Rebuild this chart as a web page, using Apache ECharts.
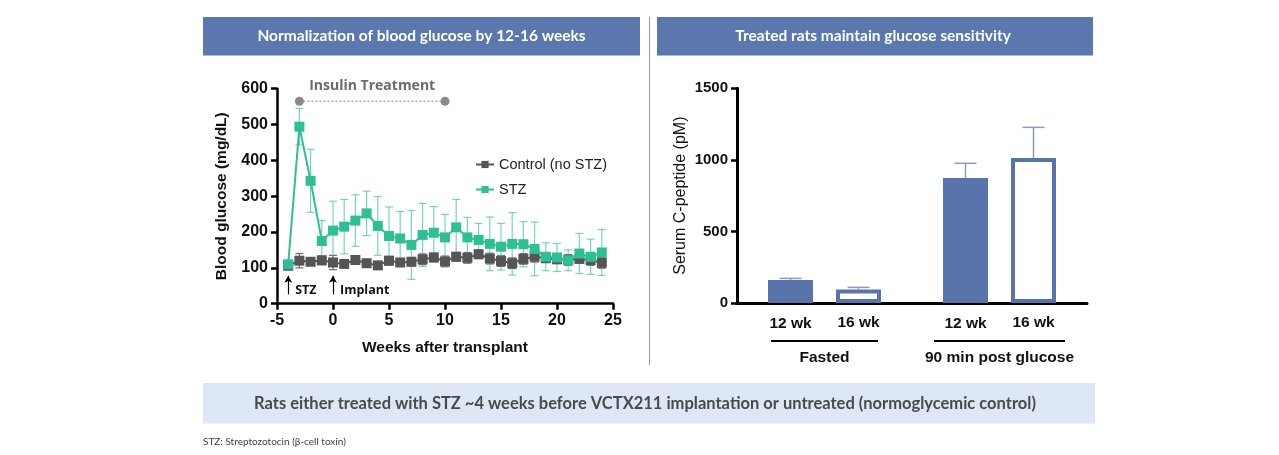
<!DOCTYPE html>
<html>
<head>
<meta charset="utf-8">
<script src="https://cdn.jsdelivr.net/npm/echarts@6/dist/echarts.min.js"></script>
<style>
html,body{margin:0;padding:0;background:#fff;}
#c{width:1279px;height:455px;}
</style>
</head>
<body>
<div id="c"></div>
<script>
// ---- Left chart data ----
const weeks = [-4,-3,-2,-1,0,1,2,3,4,5,6,7,8,9,10,11,12,13,14,15,16,17,18,19,20,21,22,23,24];
const stzMean = [110,494,343,175,204,215,232,252,217,189,182,164,192,198,185,213,185,178,167,159,167,166,153,131,129,121,140,131,143];
const stzErr  = [5,51,88,57,82,76,72,62,82,81,75,96,88,73,64,78,56,46,75,65,87,63,75,39,39,29,56,49,64];
const ctrlMean = [106,120,117,121,115,111,122,113,107,120,115,117,124,129,118,131,128,138,126,119,113,125,131,127,124,122,125,122,114];
const ctrlErr  = [5,20,8,12,20,8,10,10,8,12,10,12,15,12,15,12,15,12,15,15,15,15,15,12,12,15,12,15,15];
const insulinWindow = [[-3,565],[10,565]];
const xTicks = {min:-5,max:25,interval:5};
const yTicksL = {min:0,max:600,interval:100};

// ---- Right chart data ----
const conditions = ['Fasted','90 min post glucose'];
const wk12 = [161,873];
const wk12Err = [11,103];
const wk16 = [95,1013];
const wk16Err = [14,214];
const yTicksR = {min:0,max:1500,interval:500};

const TEAL = '#2fbf97';
const GRAY = '#555555';
const BLUE = '#5874aa';
const AX = '#000';
const FONT = '"Liberation Sans", Arial, sans-serif';
const BFONT = 'Lato, "Open Sans", sans-serif';

function errData(means, errs){ return weeks.map((w,i)=>[w, means[i]-errs[i], means[i]+errs[i]]); }

function errRender(color, capHalf){
  return function(params, api){
    const x = api.value(0), lo = api.value(1), hi = api.value(2);
    const a = api.coord([x, hi]), b = api.coord([x, lo]);
    const st = {stroke: color, lineWidth: 1.2};
    return {type:'group', children:[
      {type:'line', shape:{x1:a[0],y1:a[1],x2:b[0],y2:b[1]}, style:st},
      {type:'line', shape:{x1:a[0]-capHalf,y1:a[1],x2:a[0]+capHalf,y2:a[1]}, style:st},
      {type:'line', shape:{x1:b[0]-capHalf,y1:b[1],x2:b[0]+capHalf,y2:b[1]}, style:st}
    ]};
  };
}

const BAR_W = 45, BAR_GAP = 23;
function barErrRender(side){
  return function(params, api){
    const c = api.value(0), v = api.value(1), e = api.value(2);
    const off = side * (BAR_W + BAR_GAP) / 2;
    const a = api.coord([c, v]), b = api.coord([c, v + e]);
    const x = a[0] + off;
    const st = {stroke:'#8a9dbf', lineWidth:1.5};
    return {type:'group', children:[
      {type:'line', shape:{x1:x,y1:a[1],x2:x,y2:b[1]}, style:st},
      {type:'line', shape:{x1:x-11,y1:b[1],x2:x+11,y2:b[1]}, style:st}
    ]};
  };
}

const chart = echarts.init(document.getElementById('c'));

const axisCommon = {
  axisLine:{show:true, onZero:false, lineStyle:{color:AX, width:2.5}},
  axisTick:{show:true, length:6, lineStyle:{color:AX, width:2.5}},
  splitLine:{show:false},
  axisLabel:{color:'#111', fontFamily:FONT, fontWeight:'bold', fontSize:16}
};

const option = {
  animation:false,
  backgroundColor:'#fff',
  textStyle:{fontFamily:FONT},
  grid:[
    {left:277, top:88.7, width:336, height:215},
    {left:737, top:88.3, width:350, height:214.7}
  ],
  xAxis:[
    Object.assign({}, axisCommon, {
      gridIndex:0, type:'value', min:xTicks.min, max:xTicks.max, interval:xTicks.interval,
      name:'Weeks after transplant', nameLocation:'middle', nameGap:36,
      nameTextStyle:{color:'#111', fontFamily:FONT, fontWeight:'bold', fontSize:15.5},
      axisLabel:Object.assign({}, axisCommon.axisLabel, {margin:9})
    }),
    {
      gridIndex:1, type:'category', data:conditions,
      axisLine:{show:true, onZero:false, lineStyle:{color:AX, width:3}},
      axisTick:{show:false},
      axisLabel:{
        margin:37, interval:0, color:'#111', fontFamily:FONT,
        formatter:function(v,i){ return '{u'+i+'| }\n{t|'+v+'}'; },
        rich:{
          u0:{width:107, height:2, lineHeight:2, backgroundColor:'#000', fontSize:1},
          u1:{width:131, height:2, lineHeight:2, backgroundColor:'#000', fontSize:1},
          t:{fontSize:15.5, fontWeight:'bold', fontFamily:FONT, color:'#111', lineHeight:31}
        }
      }
    }
  ],
  yAxis:[
    Object.assign({}, axisCommon, {
      gridIndex:0, type:'value', min:yTicksL.min, max:yTicksL.max, interval:yTicksL.interval,
      name:'Blood glucose (mg/dL)', nameLocation:'middle', nameGap:47,
      nameTextStyle:{color:'#111', fontFamily:FONT, fontWeight:'bold', fontSize:15.5},
      axisLabel:Object.assign({}, axisCommon.axisLabel, {margin:9})
    }),
    Object.assign({}, axisCommon, {
      gridIndex:1, type:'value', min:yTicksR.min, max:yTicksR.max, interval:yTicksR.interval,
      axisLine:{show:true, onZero:false, lineStyle:{color:AX, width:3}},
      axisTick:{show:true, length:6, lineStyle:{color:AX, width:2.5}},
      name:'Serum C-peptide (pM)', nameLocation:'middle', nameGap:48,
      nameTextStyle:{color:'#111', fontFamily:FONT, fontSize:16},
      axisLabel:Object.assign({}, axisCommon.axisLabel, {margin:9, fontSize:15, formatter:function(v){return String(v);}})
    })
  ],
  legend:{
    data:['Control (no STZ)','STZ'], orient:'vertical', left:470, top:152,
    itemWidth:18, itemHeight:9, itemGap:10,
    textStyle:{fontFamily:FONT, fontSize:14.5, color:'#222'}
  },
  series:[
    {type:'custom', name:'ctrlErr', xAxisIndex:0, yAxisIndex:0, z:2,
     renderItem:errRender('#6e6e6e',4), data:errData(ctrlMean, ctrlErr), encode:{x:0,y:[1,2]}},
    {type:'custom', name:'stzErr', xAxisIndex:0, yAxisIndex:0, z:3,
     renderItem:errRender('rgba(47,191,151,0.65)',4), data:errData(stzMean, stzErr), encode:{x:0,y:[1,2]}},
    {type:'line', name:'Control (no STZ)', xAxisIndex:0, yAxisIndex:0, z:4,
     data:weeks.map((w,i)=>[w,ctrlMean[i]]), symbol:'rect', symbolSize:10,
     lineStyle:{color:GRAY, width:2}, itemStyle:{color:GRAY}},
    {type:'line', name:'STZ', xAxisIndex:0, yAxisIndex:0, z:5,
     data:weeks.map((w,i)=>[w,stzMean[i]]), symbol:'rect', symbolSize:10,
     lineStyle:{color:TEAL, width:2}, itemStyle:{color:TEAL}},
    {type:'line', name:'Insulin Treatment', xAxisIndex:0, yAxisIndex:0, z:5,
     data:insulinWindow, symbol:'circle', symbolSize:9,
     lineStyle:{color:'#8a8a8a', width:1, type:[2,2]}, itemStyle:{color:'#8a8a8a'},
     markPoint:{symbol:'circle', symbolSize:0, silent:true,
       data:[{coord:[3.5,565]}],
       label:{show:true, formatter:'Insulin Treatment', position:'inside', offset:[0,-15],
         color:'#6b6b6b', fontFamily:'"Open Sans", sans-serif', fontWeight:'bold', fontSize:14}},
     markLine:{silent:true, symbol:['none','arrow'], symbolSize:[6,7],
       lineStyle:{color:'#000', width:1.2, type:'solid'}, label:{show:false},
       data:[[{coord:[-4,26]},{coord:[-4,78]}],[{coord:[0,26]},{coord:[0,78]}]]}
    },
    {type:'scatter', name:'annot', xAxisIndex:0, yAxisIndex:0, data:[], silent:true,
     markPoint:{symbol:'circle', symbolSize:0,
       data:[{coord:[-4,38], name:'STZ'},{coord:[0,38], name:'Implant'}],
       label:{show:true, position:'right', distance:7, formatter:'{b}',
         color:'#111', fontFamily:'"Open Sans", sans-serif', fontWeight:'bold', fontSize:12.5}}
    },
    {type:'bar', name:'12 wk', xAxisIndex:1, yAxisIndex:1, data:wk12,
     barWidth:BAR_W, barGap:(BAR_GAP/BAR_W*100)+'%', itemStyle:{color:BLUE},
     label:{show:true, position:'bottom', distance:13, formatter:'{a}',
       color:'#111', fontFamily:FONT, fontWeight:'bold', fontSize:15.5}},
    {type:'bar', name:'16 wk', xAxisIndex:1, yAxisIndex:1, data:wk16,
     barWidth:BAR_W, itemStyle:{color:'#fff', borderColor:BLUE, borderWidth:4},
     label:{show:true, position:'bottom', distance:12, formatter:'{a}',
       color:'#111', fontFamily:FONT, fontWeight:'bold', fontSize:15.5}},
    {type:'custom', name:'e12', xAxisIndex:1, yAxisIndex:1, z:1,
     renderItem:barErrRender(-1), data:wk12.map((v,i)=>[i,v,wk12Err[i]])},
    {type:'custom', name:'e16', xAxisIndex:1, yAxisIndex:1, z:1,
     renderItem:barErrRender(1), data:wk16.map((v,i)=>[i,v,wk16Err[i]])}
  ],
  graphic:[
    {type:'rect', shape:{x:203,y:17,width:437,height:38.5}, style:{fill:'#5a78ae'}},
    {type:'text', x:421.5, y:36.3, style:{text:'Normalization of blood glucose by 12-16 weeks', fill:'#fff',
      font:'bold 15.5px '+BFONT, textAlign:'center', textVerticalAlign:'middle'}},
    {type:'rect', shape:{x:657,y:17,width:436,height:38.5}, style:{fill:'#5a78ae'}},
    {type:'text', x:873, y:36.3, style:{text:'Treated rats maintain glucose sensitivity', fill:'#fff',
      font:'bold 15.5px '+BFONT, textAlign:'center', textVerticalAlign:'middle'}},
    {type:'line', shape:{x1:649.5,y1:17,x2:649.5,y2:365}, style:{stroke:'#9a9a9a', lineWidth:1}},
    {type:'rect', shape:{x:203,y:383,width:892,height:40.5}, style:{fill:'#dde7f5'}},
    {type:'text', x:645, y:403.5, style:{text:'Rats either treated with STZ ~4 weeks before VCTX211 implantation or untreated (normoglycemic control)',
      fill:'#4a4a4a', font:'bold 16.5px '+BFONT, textAlign:'center', textVerticalAlign:'middle'}},
    {type:'text', x:203, y:442, style:{text:'STZ: Streptozotocin (β-cell toxin)', fill:'#404040',
      font:'10px '+BFONT, textAlign:'left', textVerticalAlign:'middle'}}
  ]
};
chart.setOption(option);
</script>
</body>
</html>
